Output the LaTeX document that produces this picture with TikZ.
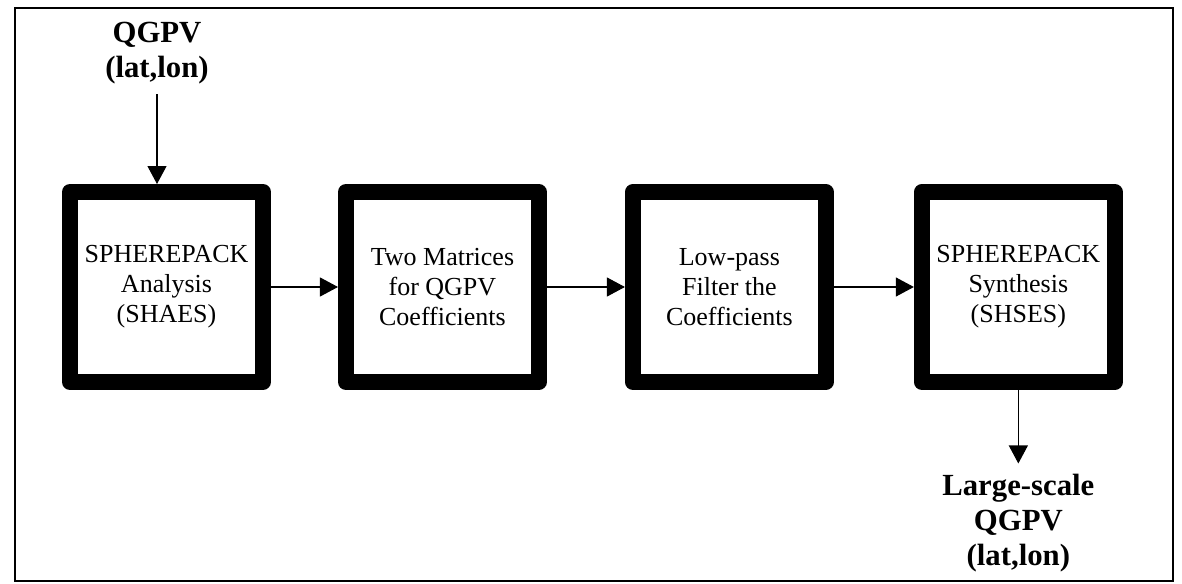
\documentclass[tikz,border=0pt]{standalone}
\usepackage{fontspec}
\setmainfont{Liberation Serif}
\usetikzlibrary{positioning,arrows.meta}
\begin{document}
\begin{tikzpicture}
  [x=0.02cm,y=-0.02cm,
    every node/.style={inner sep=0.2cm},
    stage/.style={draw,line width=0.32cm,line join=round,minimum width=3.86cm,
      minimum height=3.8cm,align=center,font=\fontsize{14.8}{17}\selectfont},
    field/.style={align=center,font=\fontsize{17.5}{20}\selectfont\bfseries},
    flow/.style={line width=0.6pt,-{Triangle[length=0.36cm,width=0.38cm]}},
]
  \useasboundingbox (0,0) rectangle (1182,584);
  \draw[line width=0.8pt] (15,8) rectangle (1173,581);
  \node[stage] (analysis) at (166.5,287) {SPHEREPACK\\Analysis\\(SHAES)};
  \node[stage,right=1.34cm of analysis] (matrices) {Two Matrices\\for QGPV\\Coefficients};
  \node[stage,right=1.56cm of matrices] (lowpass) {Low-pass\\Filter the\\Coefficients};
  \node[stage,right=1.6cm of lowpass] (synthesis) {SPHEREPACK\\Synthesis\\(SHSES)};
  \node[field,above=1.8cm of analysis,xshift=-0.19cm] (qgpv) {QGPV\\(lat,lon)};
  \node[field,below=1.47cm of synthesis] (largescale) {Large-scale\\QGPV\\(lat,lon)};
  \draw[flow] (qgpv) -- (qgpv |- analysis.north);
  \draw[flow] (analysis) -- (matrices);
  \draw[flow] (matrices) -- (lowpass);
  \draw[flow] (lowpass) -- (synthesis);
  \draw[flow] (synthesis) -- (largescale);
\end{tikzpicture}
\end{document}
